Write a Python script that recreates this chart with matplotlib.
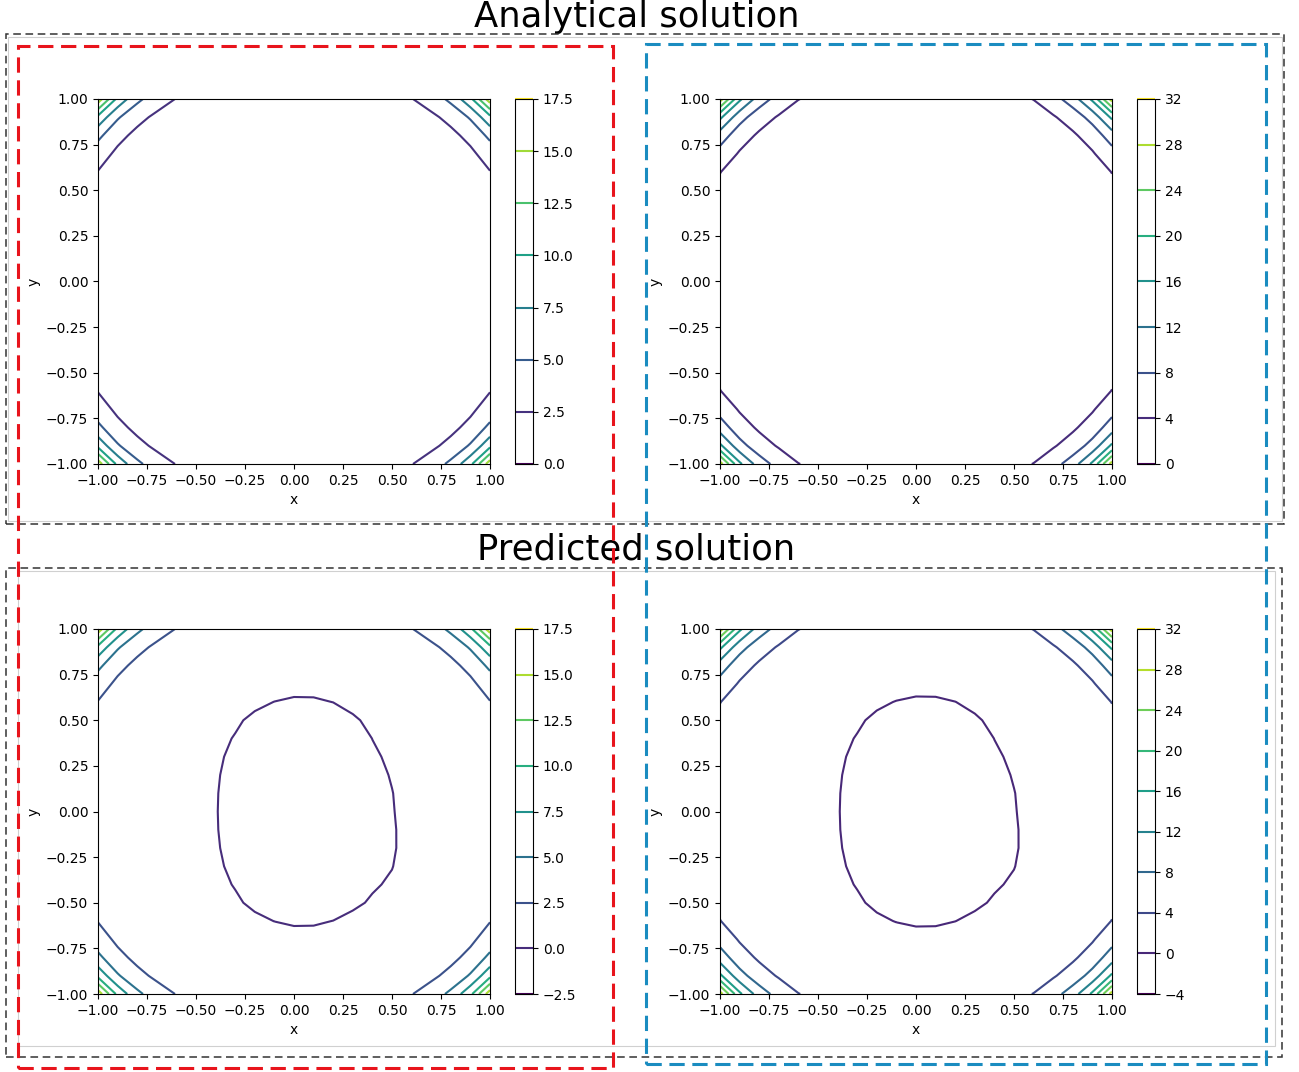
import numpy as np
import matplotlib
matplotlib.use("Agg")
import matplotlib.pyplot as plt
from matplotlib.patches import Rectangle

# ---------------- data ----------------
GRID = [-1.0, -0.9, -0.8, -0.7, -0.6, -0.5, -0.4, -0.3, -0.2, -0.1, 0.0,
        0.1, 0.2, 0.3, 0.4, 0.5, 0.6, 0.7, 0.8, 0.9, 1.0]

# separable profile of the analytical field along each axis (left / right panels)
PROFILE_LEFT = [4.062, 2.297, 1.379, 0.879, 0.595, 0.428, 0.327, 0.265, 0.228, 0.208, 0.202,
                0.208, 0.228, 0.265, 0.327, 0.428, 0.595, 0.879, 1.379, 2.297, 4.062]
PROFILE_RIGHT = [5.450, 3.082, 1.850, 1.179, 0.750, 0.574, 0.439, 0.356, 0.306, 0.279, 0.271,
                 0.279, 0.306, 0.356, 0.439, 0.574, 0.750, 1.179, 1.850, 3.082, 5.450]

# shape of the central dip of the predicted field (along x and along y)
BUMP_X = [0.0, 0.0, 0.0, 0.0, 0.0, 0.0, 0.05, 0.183, 0.42, 0.73, 0.966,
          0.97, 0.75, 0.42, 0.20, 0.105, 0.0, 0.0, 0.0, 0.0, 0.0]
BUMP_Y = [0.0, 0.0, 0.0, 0.05, 0.175, 0.38, 0.57, 0.74, 0.88, 0.97, 1.0,
          0.97, 0.88, 0.74, 0.57, 0.38, 0.175, 0.05, 0.0, 0.0, 0.0]
# lop-sided part of the dip (egg shape bulging to the lower right)
SKEW_X = [0.0, 0.0, 0.0, 0.0, 0.0, 0.0, 0.0, 0.0, 0.0, 0.0, 0.0,
          0.0, 0.0, 0.3, 0.7, 1.0, 0.3, 0.0, 0.0, 0.0, 0.0]
SKEW_Y = [0.0, 0.0, 0.0, 0.0, 0.02, 0.04, 0.04, 0.045, 0.04, 0.02, 0.0,
          -0.005, -0.015, -0.02, -0.015, -0.01, 0.0, 0.0, 0.0, 0.0, 0.0]
DEPTH_LEFT = 1.0
DEPTH_RIGHT = 1.8

LEVELS_LEFT_ANALYTIC = [0.0, 2.5, 5.0, 7.5, 10.0, 12.5, 15.0, 17.5]
LEVELS_RIGHT_ANALYTIC = [0, 4, 8, 12, 16, 20, 24, 28, 32]
LEVELS_LEFT_PRED = [-2.5, 0.0, 2.5, 5.0, 7.5, 10.0, 12.5, 15.0, 17.5]
LEVELS_RIGHT_PRED = [-4, 0, 4, 8, 12, 16, 20, 24, 28, 32]

AXIS_TICKS = [-1.0, -0.75, -0.5, -0.25, 0.0, 0.25, 0.5, 0.75, 1.0]
TITLES = ["Analytical solution", "Predicted solution"]

# ---------------- figure ----------------
W, H = 1299, 1072
fig = plt.figure(figsize=(W / 100, H / 100), dpi=100)


def fr(x0, y0, x1, y1):
    """pixel box (top-left origin) -> figure fraction [l, b, w, h]"""
    return [x0 / W, 1 - y1 / H, (x1 - x0) / W, (y1 - y0) / H]


X, Y = np.meshgrid(GRID, GRID)
pl = np.array(PROFILE_LEFT)
pr = np.array(PROFILE_RIGHT)
dip = np.outer(BUMP_Y, BUMP_X) + np.outer(SKEW_Y, SKEW_X)

Z_al = np.outer(pl, pl)
Z_ar = np.outer(pr, pr)
Z_pl = Z_al - DEPTH_LEFT * dip
Z_pr = Z_ar - DEPTH_RIGHT * dip

panels = [
    (Z_al, LEVELS_LEFT_ANALYTIC, (98, 99, 490, 464), (515, 99, 533, 464)),
    (Z_ar, LEVELS_RIGHT_ANALYTIC, (720, 99, 1112, 464), (1137, 99, 1155, 464)),
    (Z_pl, LEVELS_LEFT_PRED, (98, 629, 490, 994), (515, 629, 533, 994)),
    (Z_pr, LEVELS_RIGHT_PRED, (720, 629, 1112, 994), (1137, 629, 1155, 994)),
]

for Z, levels, abox, cbox in panels:
    ax = fig.add_axes(fr(*abox))
    cs = ax.contour(X, Y, Z, levels=levels, cmap="viridis", linewidths=1.5)
    ax.set_xlim(-1, 1)
    ax.set_ylim(-1, 1)
    ax.set_xticks(AXIS_TICKS)
    ax.set_yticks(AXIS_TICKS)
    ax.set_xlabel("x")
    ax.set_ylabel("y")
    cax = fig.add_axes(fr(*cbox))
    cb = fig.colorbar(cs, cax=cax)
    cb.set_ticks(levels)

# faint frames of the original sub-figures
for box in [(8, 37, 1282, 521), (18, 571, 1275, 1046)]:
    l, b, w, h = fr(*box)
    fig.add_artist(Rectangle((l, b), w, h, transform=fig.transFigure, fill=False,
                             edgecolor="#d0d0d0", linewidth=0.8, zorder=5))

# titles
fig.text(637 / W, 1 - 17 / H, TITLES[0], ha="center", va="center", fontsize=25.5)
fig.text(636 / W, 1 - 549 / H, TITLES[1], ha="center", va="center", fontsize=25.5)

# black dashed group boxes
for box in [(6, 34, 1284, 524), (6, 568, 1282, 1057)]:
    l, b, w, h = fr(*box)
    fig.add_artist(Rectangle((l, b), w, h, transform=fig.transFigure, fill=False,
                             edgecolor="#333333", linewidth=1.1,
                             linestyle=(0, (5, 3)), zorder=10))

# red and blue dashed column boxes
for box, col in [((18, 46, 613, 1068), "#e8141c"), ((646, 44, 1266, 1064), "#1a8cc0")]:
    l, b, w, h = fr(*box)
    fig.add_artist(Rectangle((l, b), w, h, transform=fig.transFigure, fill=False,
                             edgecolor=col, linewidth=2.2,
                             linestyle=(0, (5, 2.5)), zorder=11))

fig.savefig("out.png", dpi=100)
